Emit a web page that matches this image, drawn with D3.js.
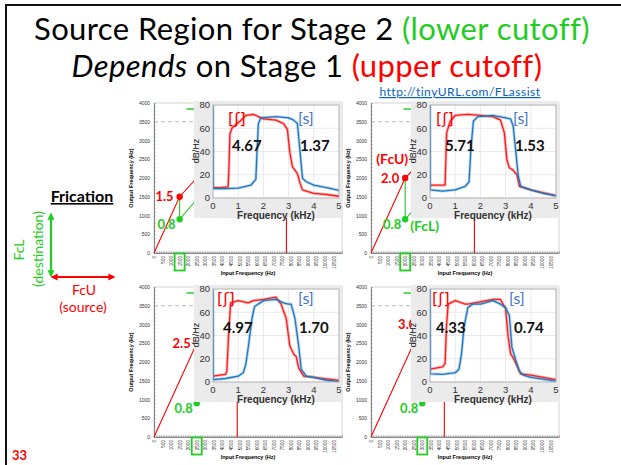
<!DOCTYPE html>
<html>
<head>
<meta charset="utf-8">
<script src="https://d3js.org/d3.v7.min.js"></script>
<style>
  body { margin: 0; background: #fff; }
  svg { display: block; }
</style>
</head>
<body>
<div id="chart"></div>
<script>
  // --- data ---
  const fcuKHz = [1.5, 2.0, 2.5, 3.0];
  const fcuLabels = ["1.5", "2.0", "2.5", "3.0"];
  const fclLabels = ["0.8", "0.8", "0.8", "0.8"];
  const fclOutHz = [900, 900, 900, 900];
  const leftNums = ["4.67", "5.71", "4.97", "4.33"];
  const rightNums = ["1.37", "1.53", "1.70", "0.74"];

  const inputTicks = [0, 500, 1000, 1500, 2000, 2500, 3000, 3500, 4000, 4500, 5000,
                      5500, 6000, 6500, 7000, 7500, 8000, 8500, 9000, 9500, 10000, 10500];
  const outputTicks = [0, 500, 1000, 1500, 2000, 2500, 3000, 3500, 4000];
  const dbTicks = [0, 20, 40, 60, 80];
  const khzTicks = [0, 1, 2, 3, 4, 5];

  // input->output maps (Hz)
  const redMap1 = [[0,0],[1500,1500],[4500,3000],[7750,3000],[7750,0]];
  const redMap2 = [[0,0],[2000,2000],[4500,3200],[6050,3200],[6050,0]];
  const redMap3 = [[0,0],[2500,2500],[4000,3300],[4870,3300],[4870,0]];
  const redMap4 = [[0,0],[3000,3000],[3800,3400],[4290,3400],[4290,0]];
  const greenMap1 = [[1500,1500],[1500,900],[4500,2500]];
  const greenMap2 = [[2000,2000],[2000,900],[4500,2200]];
  const greenMap3 = [[2500,2500],[2500,900],[4500,2000]];
  const greenMap4 = [[3000,3000],[3000,900],[4500,1700]];
  const greenTop = [[1900,3840],[2800,3840]];

  // spectra [kHz, dB/Hz]
  const sh1 = [[0,9],[0.3,9],[0.6,9.5],[0.64,30],[0.67,55],[0.75,60],[0.9,63],[1.07,66],[1.3,71],[1.6,72],[1.8,70],[2.0,68],[2.5,67],[2.8,64],[2.95,59],[3.05,39],[3.15,27],[3.25,24],[3.35,21],[3.45,13],[3.55,7],[4.0,4],[4.5,3],[5.0,1.5]];
  const s1 = [[0,80],[0.01,8],[0.5,8],[1.0,8.5],[1.5,11],[1.7,16],[1.75,41],[1.8,64],[1.9,69],[2.5,70],[3.0,69],[3.2,67],[3.35,64],[3.45,41],[3.55,17],[3.7,14],[4.0,11],[4.5,9],[5.0,6.5]];
  const sh2 = [[0,11],[0.6,11],[0.63,35],[0.66,56],[0.8,66],[1.0,71],[1.5,72],[2.0,71],[2.5,70],[2.8,67],[2.95,56],[3.05,33],[3.15,26],[3.3,24],[3.45,20],[3.55,10],[4.0,7],[4.5,4.5],[5.0,2]];
  const s2 = [[0,80],[0.01,7],[0.5,6],[1.0,7],[1.4,10],[1.55,14],[1.62,41],[1.72,66],[1.9,70],[2.5,71],[3.0,69],[3.2,68],[3.3,62],[3.4,41],[3.5,19],[3.6,10],[4.0,7],[4.5,4],[5.0,2]];
  const sh3 = [[0,5],[0.5,6.6],[0.55,9.5],[0.62,41],[0.7,68],[1.0,70],[1.4,68],[1.6,70],[2.0,71],[2.5,73],[2.7,67],[2.9,55],[3.05,31],[3.2,24],[3.3,22],[3.4,12],[3.6,5],[4.0,4],[5.0,1.4]];
  const s3 = [[0,80],[0.01,2],[0.5,3],[1.0,5],[1.2,8],[1.3,15],[1.4,30],[1.55,55],[1.65,65],[2.0,70],[2.5,71],[2.8,68],[3.0,67],[3.1,67],[3.25,55],[3.4,31],[3.5,11],[3.7,5],[4.0,4],[4.5,1.5],[5.0,0.3]];
  const sh4 = [[0,11],[0.5,13],[0.6,16],[0.65,47],[0.72,67],[1.0,70],[1.4,67],[1.5,67],[2.0,69],[2.5,71],[2.8,71],[3.0,63],[3.1,39],[3.2,24],[3.3,21],[3.45,14],[3.6,7],[4.0,6],[5.0,2]];
  const s4 = [[0,80],[0.01,7],[0.5,6.6],[1.0,8],[1.15,11],[1.25,24],[1.35,47],[1.5,64],[1.7,67],[2.0,67],[2.5,70],[2.8,67],[3.0,64],[3.15,57],[3.25,30],[3.4,19],[3.55,9],[3.7,6],[4.0,4],[5.0,0.7]];

  const redMaps = [redMap1, redMap2, redMap3, redMap4];
  const greenMaps = [greenMap1, greenMap2, greenMap3, greenMap4];
  const shSpectra = [sh1, sh2, sh3, sh4];
  const sSpectra = [s1, s2, s3, s4];

  // --- layout ---
  const W = 621, H = 465;
  const GREEN = "#22cc22", RED = "#ff0000";
  const origins = [[154, 103], [371, 103], [154, 287], [371, 287]];
  const pw = 188, ph = 150;
  // label offsets inside each inset plot: [ʃ], [s], left num, right num ; baseline rows
  const lblX = [[15, 85, 19, 87], [6, 83, 15, 85], [4, 85, 10, 86], [2, 79, 6, 84]];
  const lblY = [[19, 46], [19, 46], [15, 44], [15, 44]];

  const svg = d3.select("#chart").append("svg")
    .attr("width", W).attr("height", H)
    .style("font-family", "Lato, 'Noto Sans', sans-serif");

  svg.append("path").attr("d", `M6,${H} V5 H${W}`)
    .attr("fill", "none").attr("stroke", "#111").attr("stroke-width", 2);

  // title
  const t1 = svg.append("text").attr("x", 312).attr("y", 39.5)
    .attr("text-anchor", "middle").attr("font-size", 31).attr("letter-spacing", 0.4);
  t1.append("tspan").text("Source Region for Stage 2 ");
  t1.append("tspan").attr("fill", GREEN).text("(lower cutoff)");
  const t2 = svg.append("text").attr("x", 307).attr("y", 77)
    .attr("text-anchor", "middle").attr("font-size", 31).attr("letter-spacing", 0.4);
  t2.append("tspan").attr("font-style", "italic").text("Depends");
  t2.append("tspan").text(" on Stage 1 ");
  t2.append("tspan").attr("fill", RED).text("(upper cutoff)");

  svg.append("text").attr("x", 460).attr("y", 96).attr("text-anchor", "middle")
    .attr("font-size", 12).attr("fill", "#0563c1").attr("letter-spacing", 0.5)
    .style("text-decoration", "underline").text("http://tinyURL.com/FLassist");

  // left legend
  const defs = svg.append("defs");
  [["ah-g", GREEN], ["ah-r", RED]].forEach(([id, c]) => {
    defs.append("marker").attr("id", id).attr("viewBox", "0 0 10 10")
      .attr("refX", 8).attr("refY", 5).attr("markerWidth", 3.2).attr("markerHeight", 3.2)
      .attr("orient", "auto-start-reverse")
      .append("path").attr("d", "M0,0 L10,5 L0,10 z").attr("fill", c);
  });
  svg.append("text").attr("x", 82).attr("y", 202).attr("text-anchor", "middle")
    .attr("font-size", 16).attr("font-weight", "bold")
    .style("text-decoration", "underline").text("Frication");
  svg.append("line").attr("x1", 51).attr("y1", 214).attr("x2", 51).attr("y2", 276)
    .attr("stroke", GREEN).attr("stroke-width", 2.2)
    .attr("marker-start", "url(#ah-g)").attr("marker-end", "url(#ah-g)");
  svg.append("line").attr("x1", 52).attr("y1", 277).attr("x2", 114).attr("y2", 277)
    .attr("stroke", RED).attr("stroke-width", 2.2)
    .attr("marker-start", "url(#ah-r)").attr("marker-end", "url(#ah-r)");
  svg.append("text").attr("transform", "translate(18,250) rotate(-90)")
    .attr("text-anchor", "middle").attr("dominant-baseline", "central")
    .attr("font-size", 14).attr("fill", GREEN).text("FcL");
  svg.append("text").attr("transform", "translate(37,249) rotate(-90)")
    .attr("text-anchor", "middle").attr("dominant-baseline", "central")
    .attr("font-size", 14).attr("fill", GREEN).text("(destination)");
  svg.append("text").attr("x", 84).attr("y", 295).attr("text-anchor", "middle")
    .attr("font-size", 14).attr("fill", RED).text("FcU");
  svg.append("text").attr("x", 83).attr("y", 312).attr("text-anchor", "middle")
    .attr("font-size", 14).attr("fill", RED).text("(source)");
  svg.append("text").attr("x", 12).attr("y", 460).attr("font-size", 13)
    .attr("font-weight", "bold").attr("fill", RED).text("33");

  const x = d3.scaleLinear().domain([0, 11000]).range([0, pw]);
  const y = d3.scaleLinear().domain([0, 4000]).range([ph, 0]);
  const ix = d3.scaleLinear().domain([0, 5]).range([0, 126]);
  const iy = d3.scaleLinear().domain([0, 80]).range([93, 0]);
  const mapLine = d3.line().x(d => x(d[0])).y(d => y(d[1]));
  const specLine = d3.line().x(d => ix(d[0])).y(d => iy(d[1]));

  fcuKHz.forEach((fcu, i) => {
    const [ox, oy] = origins[i];
    const g = svg.append("g").attr("transform", `translate(${ox},${oy})`);

    g.append("rect").attr("width", pw).attr("height", ph)
      .attr("fill", "none").attr("stroke", "#c8c8c8").attr("stroke-width", 0.8);

    g.append("line").attr("x1", x(0)).attr("x2", x(11000))
      .attr("y1", y(3500)).attr("y2", y(3500))
      .attr("stroke", "#bdbdbd").attr("stroke-width", 1.2).attr("stroke-dasharray", "4,3");

    const ya = g.append("g").call(d3.axisLeft(y).tickValues(outputTicks).tickFormat(d => String(d))
      .tickSize(0).tickPadding(4));
    ya.select(".domain").attr("stroke", "#888");
    ya.selectAll("text").attr("font-size", 5).attr("fill", "#333").attr("font-family", "Liberation Sans");
    const ym = g.append("g").call(d3.axisLeft(y).ticks(40).tickSize(-1.6).tickFormat(""));
    ym.select(".domain").remove();
    ym.selectAll("line").attr("stroke", "#777").attr("stroke-width", 0.6);

    const xa = g.append("g").attr("transform", `translate(0,${ph})`)
      .call(d3.axisBottom(x).tickValues(inputTicks).tickFormat(d => String(d)).tickSize(0).tickPadding(2));
    xa.select(".domain").attr("stroke", "#888");
    xa.selectAll("text").attr("font-size", 4.6).attr("fill", "#333").attr("font-family", "Liberation Sans")
      .attr("transform", "rotate(-90)").attr("text-anchor", "end")
      .attr("x", -3).attr("y", 0).attr("dy", "0.35em");
    const xm = g.append("g").attr("transform", `translate(0,${ph})`)
      .call(d3.axisBottom(x).ticks(110).tickSize(-1.6).tickFormat(""));
    xm.select(".domain").remove();
    xm.selectAll("line").attr("stroke", "#777").attr("stroke-width", 0.6);

    g.append("text").attr("x", pw / 2).attr("y", ph + 22).attr("text-anchor", "middle")
      .attr("font-size", 5.5).attr("font-weight", "bold").attr("font-family", "Liberation Sans")
      .text("Input Frequency (Hz)");
    g.append("text").attr("transform", `translate(-21,${ph / 2}) rotate(-90)`)
      .attr("text-anchor", "middle").attr("font-size", 5.5).attr("font-weight", "bold")
      .attr("font-family", "Liberation Sans").text("Output Frequency (Hz)");

    // maps
    g.append("path").attr("d", mapLine(greenTop)).attr("fill", "none")
      .attr("stroke", GREEN).attr("stroke-width", 1.4);
    g.append("path").attr("d", mapLine(redMaps[i])).attr("fill", "none")
      .attr("stroke", RED).attr("stroke-width", 1.1);
    g.append("path").attr("d", mapLine(greenMaps[i])).attr("fill", "none")
      .attr("stroke", GREEN).attr("stroke-width", 1.1);
    const fx = x(fcu * 1000);
    g.append("circle").attr("cx", fx).attr("cy", y(fcu * 1000)).attr("r", 3.2).attr("fill", RED);
    g.append("circle").attr("cx", fx).attr("cy", y(fclOutHz[i])).attr("r", 3.2).attr("fill", GREEN);

    g.append("rect").attr("x", fx - 5).attr("y", ph + 0.5).attr("width", 10).attr("height", 17)
      .attr("fill", "none").attr("stroke", GREEN).attr("stroke-width", 1.8);

    g.append("text").attr("x", fx - 6).attr("y", y(fcu * 1000) + 4.5).attr("text-anchor", "end")
      .attr("font-size", 13).attr("font-weight", "bold").attr("fill", RED).text(fcuLabels[i]);
    g.append("text").attr("x", fx - 4).attr("y", y(fclOutHz[i]) + 9.5).attr("text-anchor", "end")
      .attr("font-size", 13).attr("font-weight", "bold").attr("fill", GREEN).text(fclLabels[i]);
    if (i === 1) {
      g.append("text").attr("x", fx + 3).attr("y", y(fcu * 1000) - 14).attr("text-anchor", "end")
        .attr("font-size", 14).attr("font-weight", "bold").attr("fill", RED).text("(FcU)");
      g.append("text").attr("x", fx + 5).attr("y", y(fclOutHz[i]) + 12).attr("text-anchor", "start")
        .attr("font-size", 14).attr("font-weight", "bold").attr("fill", GREEN).text("(FcL)");
    }

    // inset spectrum
    const ig = svg.append("g").attr("transform", `translate(${ox + 40},${oy - 2})`);
    ig.append("rect").attr("width", 148).attr("height", 117).attr("fill", "#ebebeb");
    const pg = ig.append("g").attr("transform", "translate(19,4)");
    pg.append("rect").attr("width", 126).attr("height", 93).attr("fill", "#fff");
    pg.selectAll(".vg").data(khzTicks).join("line")
      .attr("x1", d => ix(d)).attr("x2", d => ix(d)).attr("y1", 0).attr("y2", 93)
      .attr("stroke", "#e4e4e4").attr("stroke-width", 0.8);
    pg.selectAll(".hg").data(dbTicks).join("line")
      .attr("y1", d => iy(d)).attr("y2", d => iy(d)).attr("x1", 0).attr("x2", 126)
      .attr("stroke", "#e4e4e4").attr("stroke-width", 0.8);

    defs.append("clipPath").attr("id", "clip" + i)
      .append("rect").attr("width", 126).attr("height", 93);
    const lg = pg.append("g").attr("clip-path", `url(#clip${i})`);
    [[shSpectra[i], "#ff1c1c"], [sSpectra[i], "#1f78c1"]].forEach(([data, c]) => {
      lg.append("path").attr("d", specLine(data)).attr("fill", "none")
        .attr("stroke", c).attr("stroke-width", 3).attr("stroke-opacity", 0.3)
        .attr("stroke-linejoin", "round");
      lg.append("path").attr("d", specLine(data)).attr("fill", "none")
        .attr("stroke", c).attr("stroke-width", 1.3).attr("stroke-linejoin", "round");
    });
    pg.append("rect").attr("width", 126).attr("height", 93)
      .attr("fill", "none").attr("stroke", "#aaa").attr("stroke-width", 0.8);

    pg.selectAll(".yl").data(dbTicks).join("text")
      .attr("x", -3).attr("y", d => iy(d)).attr("dy", "0.35em").attr("text-anchor", "end")
      .attr("font-size", 9.5).attr("fill", "#333").attr("font-family", "Liberation Sans").text(d => d);
    pg.selectAll(".xl").data(khzTicks).join("text")
      .attr("x", d => ix(d)).attr("y", 93 + 11).attr("text-anchor", "middle")
      .attr("font-size", 9.5).attr("fill", "#333").attr("font-family", "Liberation Sans").text(d => d);
    pg.append("text").attr("transform", "translate(-14,46) rotate(-90)")
      .attr("text-anchor", "middle").attr("font-size", 9).attr("fill", "#222")
      .attr("font-family", "Liberation Sans").text("dB/Hz");
    pg.append("text").attr("x", 63).attr("y", 93 + 21).attr("text-anchor", "middle")
      .attr("font-size", 10).attr("font-weight", "bold").attr("fill", "#333")
      .attr("font-family", "Liberation Sans").text("Frequency (kHz)");

    const lx = lblX[i], ly = lblY[i];
    pg.append("text").attr("x", lx[0]).attr("y", ly[0]).attr("font-size", 16)
      .attr("fill", RED).attr("font-family", "'DejaVu Sans', 'Noto Sans'").text("[ʃ]");
    pg.append("text").attr("x", lx[1]).attr("y", ly[0]).attr("font-size", 16)
      .attr("fill", "#4472c4").text("[s]");
    pg.append("text").attr("x", lx[2]).attr("y", ly[1]).attr("font-size", 15)
      .attr("font-weight", "bold").attr("fill", "#111").text(leftNums[i]);
    pg.append("text").attr("x", lx[3]).attr("y", ly[1]).attr("font-size", 15)
      .attr("font-weight", "bold").attr("fill", "#111").text(rightNums[i]);
  });
</script>
</body>
</html>
